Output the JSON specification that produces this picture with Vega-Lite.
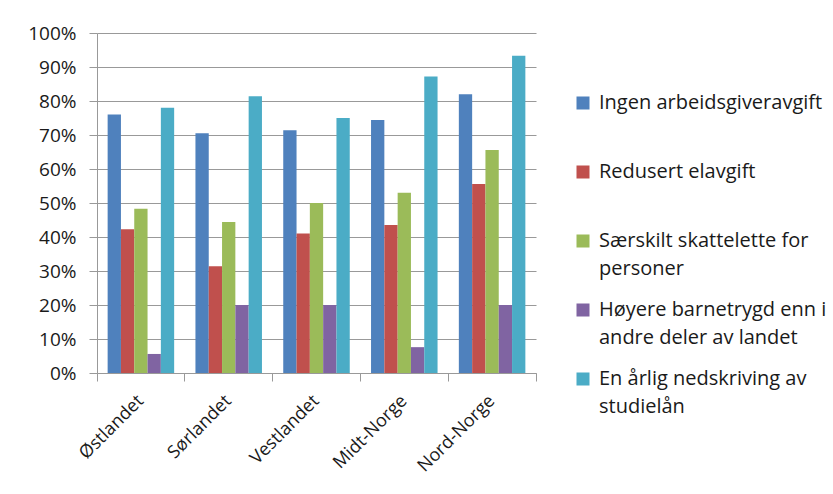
{
  "$schema": "https://vega.github.io/schema/vega-lite/v6.json",
  "autosize": "none",
  "width": 439,
  "height": 340,
  "padding": {"left": 97, "top": 33, "right": 297, "bottom": 121},
  "background": "white",
  "data": {
    "values": [
      {"region": "Østlandet", "serie": "Ingen arbeidsgiveravgift", "verdi": 0.76},
      {"region": "Østlandet", "serie": "Redusert elavgift", "verdi": 0.423},
      {"region": "Østlandet", "serie": "Særskilt skattelette for personer", "verdi": 0.483},
      {"region": "Østlandet", "serie": "Høyere barnetrygd enn i andre deler av landet", "verdi": 0.056},
      {"region": "Østlandet", "serie": "En årlig nedskriving av studielån", "verdi": 0.78},
      {"region": "Sørlandet", "serie": "Ingen arbeidsgiveravgift", "verdi": 0.705},
      {"region": "Sørlandet", "serie": "Redusert elavgift", "verdi": 0.314},
      {"region": "Sørlandet", "serie": "Særskilt skattelette for personer", "verdi": 0.444},
      {"region": "Sørlandet", "serie": "Høyere barnetrygd enn i andre deler av landet", "verdi": 0.2},
      {"region": "Sørlandet", "serie": "En årlig nedskriving av studielån", "verdi": 0.814},
      {"region": "Vestlandet", "serie": "Ingen arbeidsgiveravgift", "verdi": 0.714},
      {"region": "Vestlandet", "serie": "Redusert elavgift", "verdi": 0.41},
      {"region": "Vestlandet", "serie": "Særskilt skattelette for personer", "verdi": 0.5},
      {"region": "Vestlandet", "serie": "Høyere barnetrygd enn i andre deler av landet", "verdi": 0.2},
      {"region": "Vestlandet", "serie": "En årlig nedskriving av studielån", "verdi": 0.75},
      {"region": "Midt-Norge", "serie": "Ingen arbeidsgiveravgift", "verdi": 0.744},
      {"region": "Midt-Norge", "serie": "Redusert elavgift", "verdi": 0.435},
      {"region": "Midt-Norge", "serie": "Særskilt skattelette for personer", "verdi": 0.53},
      {"region": "Midt-Norge", "serie": "Høyere barnetrygd enn i andre deler av landet", "verdi": 0.076},
      {"region": "Midt-Norge", "serie": "En årlig nedskriving av studielån", "verdi": 0.872},
      {"region": "Nord-Norge", "serie": "Ingen arbeidsgiveravgift", "verdi": 0.82},
      {"region": "Nord-Norge", "serie": "Redusert elavgift", "verdi": 0.556},
      {"region": "Nord-Norge", "serie": "Særskilt skattelette for personer", "verdi": 0.656},
      {"region": "Nord-Norge", "serie": "Høyere barnetrygd enn i andre deler av landet", "verdi": 0.2},
      {"region": "Nord-Norge", "serie": "En årlig nedskriving av studielån", "verdi": 0.933}
    ]
  },
  "mark": {"type": "bar"},
  "encoding": {
    "x": {
      "field": "region",
      "type": "nominal",
      "sort": null,
      "scale": {"paddingInner": 0, "paddingOuter": 0},
      "axis": {
        "title": null,
        "grid": false,
        "labelAngle": -45,
        "labelAlign": "right",
        "labelBaseline": "middle",
        "bandPosition": 1,
        "tickExtra": true,
        "labelOffset": 0,
        "labelPadding": 17,
        "tickSize": 8,
        "tickColor": "#999999",
        "domainColor": "#999999",
        "labelFont": "Open Sans",
        "labelFontSize": 18,
        "labelColor": "#1a1a1a"
      }
    },
    "xOffset": {
      "field": "serie",
      "type": "nominal",
      "sort": null,
      "scale": {"paddingInner": 0, "paddingOuter": 0.8}
    },
    "y": {
      "field": "verdi",
      "type": "quantitative",
      "scale": {"domain": [0, 1]},
      "axis": {
        "title": null,
        "grid": true,
        "format": ".0%",
        "values": [0, 0.1, 0.2, 0.3, 0.4, 0.5, 0.6, 0.7, 0.8, 0.9, 1],
        "labelOverlap": false,
        "tickSize": 8,
        "labelPadding": 13,
        "tickColor": "#999999",
        "domainColor": "#999999",
        "gridColor": "#999999",
        "labelFont": "Open Sans",
        "labelFontSize": 19,
        "labelColor": "#1a1a1a"
      }
    },
    "color": {
      "field": "serie",
      "type": "nominal",
      "sort": null,
      "scale": {
        "domain": ["Ingen arbeidsgiveravgift", "Redusert elavgift", "Særskilt skattelette for personer", "Høyere barnetrygd enn i andre deler av landet", "En årlig nedskriving av studielån"],
        "range": ["#4F81BD", "#C0504D", "#9BBB59", "#8064A2", "#4BACC6"]
      },
      "legend": {
        "title": null,
        "orient": "none",
        "legendX": 476,
        "legendY": 60,
        "padding": 0,
        "symbolType": "square",
        "symbolSize": 169,
        "symbolStrokeWidth": 0,
        "labelFont": "Open Sans",
        "labelFontSize": 20,
        "labelColor": "#1a1a1a",
        "labelLimit": 300,
        "labelOffset": 6,
        "clipHeight": 56,
        "labelExpr": "datum.label == 'Ingen arbeidsgiveravgift' ? ['Ingen arbeidsgiveravgift'] : datum.label == 'Redusert elavgift' ? ['Redusert elavgift'] : datum.label == 'Særskilt skattelette for personer' ? ['Særskilt skattelette for', 'personer'] : datum.label == 'Høyere barnetrygd enn i andre deler av landet' ? ['Høyere barnetrygd enn i', 'andre deler av landet'] : ['En årlig nedskriving av', 'studielån']",
        "rowPadding": 13,
        "encode": {
          "labels": {"update": {"y": {"value": 0}, "baseline": {"value": "top"}, "lineHeight": {"value": 28}}},
          "symbols": {"update": {"y": {"value": 10}}}
        }
      }
    }
  },
  "config": {
    "view": {"stroke": null},
    "axis": {"gridWidth": 1, "domainWidth": 1, "tickWidth": 1}
  }
}
